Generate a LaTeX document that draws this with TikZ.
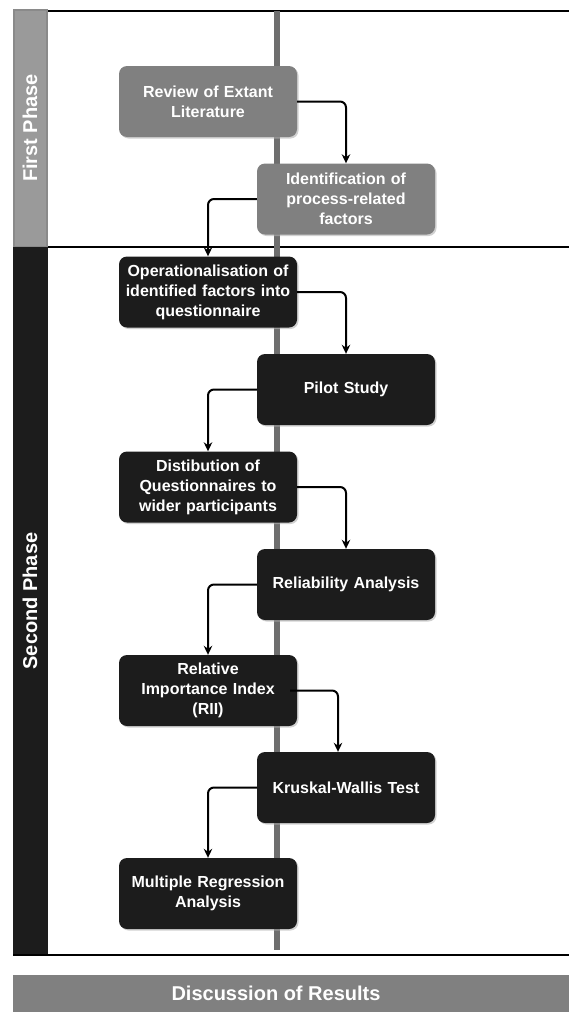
\documentclass[tikz,border=0pt]{standalone}
\usepackage{fontspec}
\setmainfont{Liberation Sans}
\usetikzlibrary{arrows.meta,shadows}
\definecolor{boxgray}{HTML}{808080}
\definecolor{colgray}{HTML}{9A9A9A}
\definecolor{coledge}{HTML}{8A8A8A}
\definecolor{linegray}{HTML}{6E6E6E}
\definecolor{boxblack}{HTML}{1C1C1C}
\tikzset{
  stepbox/.style={rectangle, rounded corners=8pt, minimum width=178pt, minimum height=71pt,
    text width=172pt, align=center, text=white, inner sep=2pt,
    font=\fontsize{16pt}{20pt}\selectfont\bfseries,
    drop shadow={shadow xshift=1.5pt, shadow yshift=-1.5pt, fill=black!30, opacity=0.6}},
  graybox/.style={stepbox, fill=boxgray},
  darkbox/.style={stepbox, fill=boxblack},
  flow/.style={draw=black, line width=2pt, rounded corners=6pt, -{Stealth[length=9pt,width=8.5pt]}},
  phaselabel/.style={rotate=90, text=white, font=\fontsize{20pt}{24pt}\selectfont\bfseries},
  frameline/.style={draw=black, line width=1.6pt}
}
\begin{document}
\begin{tikzpicture}[x=1pt,y=-1pt]
\useasboundingbox (0,0) rectangle (569,1012);
% columns
\filldraw[fill=colgray, draw=coledge, line width=2pt] (14,10) rectangle (47,247);
\fill[boxblack] (13,247) rectangle (48,955);
\node[phaselabel] (p1) at (30,128) {First Phase};
\node[phaselabel] (p2) at (30,601) {Second Phase};
% frame lines
\draw[frameline] (48,11) -- (569,11);
\draw[frameline] (48,247) -- (569,247);
\draw[frameline] (13,955) -- (569,955);
% central vertical line
\draw[linegray, line width=6pt] (277,11) -- (277,950);
% boxes
\node[graybox] (rev) at (208,101.5) {Review of Extant\\Literature};
\node[graybox] (ide) at (346,199) {Identification of\\process-related\\factors};
\node[darkbox] (ope) at (208,292) {Operationalisation of\\identified factors into\\questionnaire};
\node[darkbox] (pil) at (346,389.5) {Pilot Study};
\node[darkbox] (dis) at (208,487) {Distibution of\\Questionnaires to\\wider participants};
\node[darkbox] (rel) at (346,584.5) {Reliability Analysis};
\node[darkbox] (rii) at (208,690.5) {Relative\\Importance Index\\(RII)};
\node[darkbox] (kru) at (346,787.5) {Kruskal-Wallis Test};
\node[darkbox] (mul) at (208,893.5) {Multiple Regression\\Analysis};
% connectors
\draw[flow] (rev.east) -| (ide.north);
\draw[flow] (ide.west) -| (ope.north);
\draw[flow] (ope.east) -| (pil.north);
\draw[flow] (pil.west) -| (dis.north);
\draw[flow] (dis.east) -| (rel.north);
\draw[flow] (rel.west) -| (rii.north);
\draw[flow] ([xshift=-7pt]rii.east) -| ([xshift=-8pt]kru.north);
\draw[flow] (kru.west) -| (mul.north);
% bottom bar
\fill[boxgray] (13,975) rectangle (569,1012);
\node[text=white, font=\fontsize{20pt}{24pt}\selectfont\bfseries] (res) at (276,993.5) {Discussion of Results};
\end{tikzpicture}
\end{document}
